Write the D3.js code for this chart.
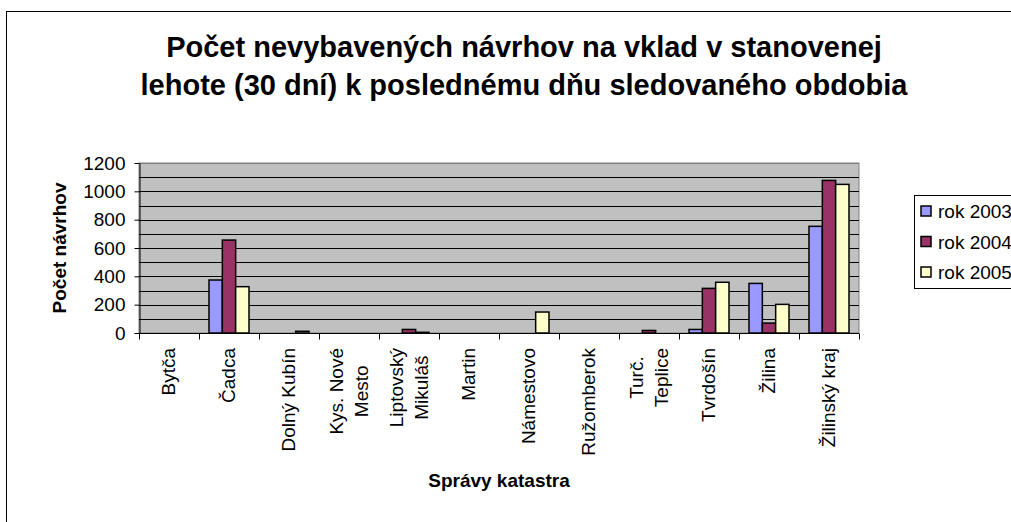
<!DOCTYPE html>
<html>
<head>
<meta charset="utf-8">
<script src="https://cdn.jsdelivr.net/npm/d3@7"></script>
<style>
  body { margin: 0; background: #fff; }
  svg { display: block; font-family: "Liberation Sans", Arial, sans-serif; }
</style>
</head>
<body>
<svg id="chart" width="1011" height="522"></svg>
<script>
// Chart data
const categories = [
    ["Bytča"], ["Čadca"], ["Dolný Kubín"], ["Kys. Nové", "Mesto"],
    ["Liptovský", "Mikuláš"], ["Martin"], ["Námestovo"], ["Ružomberok"],
    ["Turč.", "Teplice"], ["Tvrdošín"], ["Žilina"], ["Žilinský kraj"]
];
const seriesNames = ["rok 2003", "rok 2004", "rok 2005"];
const values2003 = [0, 374, 0, 0, 0, 0, 0, 0, 0, 25, 350, 753];
const values2004 = [0, 656, 0, 0, 25, 0, 0, 0, 18, 315, 70, 1077];
const values2005 = [0, 327, 12, 0, 5, 0, 148, 0, 0, 358, 202, 1049];
const yTicks = [0, 200, 400, 600, 800, 1000, 1200];
const colors = ["#9999FF", "#993366", "#FFFFCC"];

const svg = d3.select('#chart');

// Outer chart frame
svg.append('rect')
    .attr('x', 6.5).attr('y', 11.5)
    .attr('width', 1030).attr('height', 530)
    .attr('fill', 'none').attr('stroke', '#000').attr('stroke-width', 1);

// Title
const title = svg.append('text')
    .attr('text-anchor', 'middle')
    .attr('font-weight', 'bold')
    .attr('font-size', 29);
title.append('tspan').attr('x', 524).attr('y', 57)
    .text('Počet nevybavených návrhov na vklad v stanovenej');
title.append('tspan').attr('x', 524).attr('y', 95)
    .text('lehote (30 dní) k poslednému dňu sledovaného obdobia');

// Plot area
const plot = { left: 139, right: 859, top: 163, bottom: 333 };

const x0 = d3.scaleBand()
    .domain(d3.range(categories.length))
    .range([plot.left, plot.right]);
const x1 = d3.scaleBand()
    .domain(d3.range(seriesNames.length))
    .range([0, x0.bandwidth()])
    .paddingOuter(0.75)
    .paddingInner(0);
const y = d3.scaleLinear().domain([0, 1200]).range([plot.bottom, plot.top]);

svg.append('rect')
    .attr('x', plot.left).attr('y', plot.top)
    .attr('width', plot.right - plot.left).attr('height', plot.bottom - plot.top)
    .attr('fill', '#C0C0C0')
    .attr('stroke', '#808080').attr('stroke-width', 1);

// Gridlines every 100
svg.append('g')
    .selectAll('line')
    .data(d3.range(100, 1201, 100))
    .enter()
    .append('line')
    .attr('x1', plot.left).attr('x2', plot.right)
    .attr('y1', d => Math.round(y(d)) + 0.5).attr('y2', d => Math.round(y(d)) + 0.5)
    .attr('stroke', d => d === 1200 ? '#808080' : '#000')
    .attr('stroke-width', 1);

// Bars
const series = [values2003, values2004, values2005];
const barData = [];
categories.forEach((c, i) => {
    series.forEach((vals, s) => {
        if (vals[i] > 0) barData.push({ cat: i, s: s, v: vals[i] });
    });
});
svg.append('g')
    .selectAll('rect')
    .data(barData)
    .enter()
    .append('rect')
    .attr('x', d => x0(d.cat) + x1(d.s))
    .attr('y', d => y(d.v))
    .attr('width', x1.bandwidth())
    .attr('height', d => plot.bottom - y(d.v))
    .attr('fill', d => colors[d.s])
    .attr('stroke', '#000')
    .attr('stroke-width', 1.5);

// Y axis
const yAxis = svg.append('g')
    .attr('transform', `translate(${plot.left + 0.5},0)`)
    .call(d3.axisLeft(y).tickValues(yTicks).tickFormat(d3.format('d'))
        .tickSize(5).tickPadding(9).tickSizeOuter(0));
yAxis.select('.domain').attr('stroke', '#000');
yAxis.selectAll('text')
    .attr('font-size', 19)
    .attr('font-family', '"Liberation Sans", Arial, sans-serif')
    .attr('fill', '#000');

// X axis
const xAxis = svg.append('g')
    .attr('transform', `translate(0,${plot.bottom + 0.5})`);
xAxis.append('line')
    .attr('x1', plot.left).attr('x2', plot.right)
    .attr('stroke', '#000');
xAxis.selectAll('.tick')
    .data(d3.range(categories.length + 1))
    .enter()
    .append('line')
    .attr('x1', d => Math.round(plot.left + d * x0.step()) + 0.5)
    .attr('x2', d => Math.round(plot.left + d * x0.step()) + 0.5)
    .attr('y1', 0).attr('y2', 6)
    .attr('stroke', '#000');

// Category labels, rotated, longest line aligned at the top
const labelTop = 348;
const lineGap = 25;
categories.forEach((lines, i) => {
    const cx = x0(i) + x0.bandwidth() / 2;
    const g = svg.append('g');
    const texts = lines.map(l => g.append('text')
        .attr('font-size', 19)
        .attr('text-anchor', 'middle')
        .text(l));
    const maxW = d3.max(texts, t => t.node().getComputedTextLength());
    const mid = labelTop + maxW / 2;
    texts.forEach((t, k) => {
        const off = (k - (lines.length - 1) / 2) * lineGap;
        t.attr('transform', `translate(${cx + off + 6},${mid}) rotate(-90)`);
    });
});

// Axis titles
svg.append('text')
    .attr('transform', `translate(66,${(plot.top + plot.bottom) / 2}) rotate(-90)`)
    .attr('text-anchor', 'middle')
    .attr('font-weight', 'bold')
    .attr('font-size', 19)
    .text('Počet návrhov');

svg.append('text')
    .attr('x', 499).attr('y', 487)
    .attr('text-anchor', 'middle')
    .attr('font-weight', 'bold')
    .attr('font-size', 19)
    .text('Správy katastra');

// Legend
const legend = svg.append('g');
legend.append('rect')
    .attr('x', 914.5).attr('y', 195.5)
    .attr('width', 120).attr('height', 93)
    .attr('fill', '#fff').attr('stroke', '#000');
seriesNames.forEach((name, i) => {
    const cy = 211 + i * 30.5;
    legend.append('rect')
        .attr('x', 921).attr('y', cy - 5)
        .attr('width', 10).attr('height', 10)
        .attr('fill', colors[i]).attr('stroke', '#000').attr('stroke-width', 1.5);
    legend.append('text')
        .attr('x', 938).attr('y', cy + 7)
        .attr('font-size', 19)
        .text(name);
});
</script>
</body>
</html>
